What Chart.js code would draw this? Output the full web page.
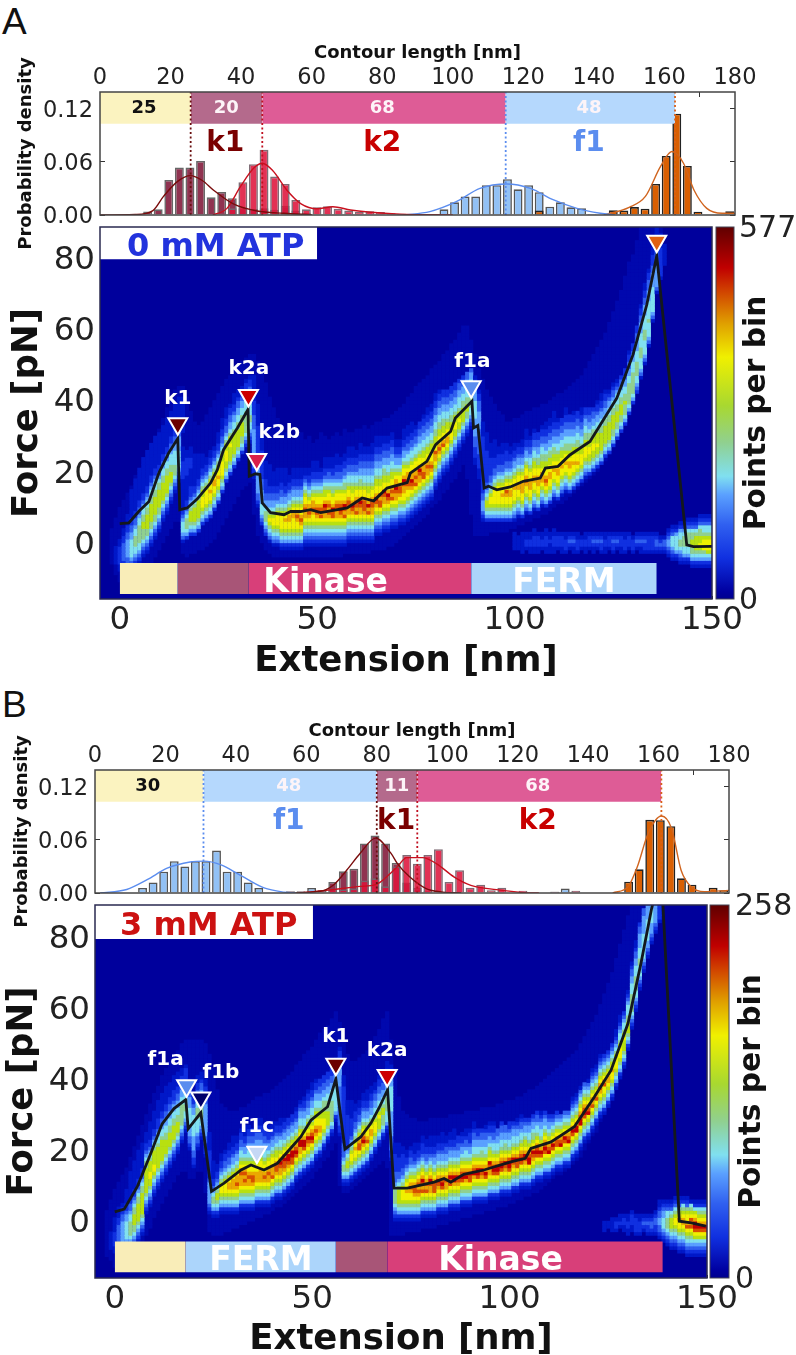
<!DOCTYPE html>
<html><head><meta charset="utf-8">
<script src="https://cdn.jsdelivr.net/npm/chart.js@4"></script>
<style>
html,body{margin:0;padding:0;background:#fff;overflow:hidden;width:796px;height:1355px}
canvas{position:absolute;display:block}
.panel{position:absolute;font:37px "Liberation Sans";color:#111;line-height:37px}
</style></head><body>
<div class="panel" style="left:2px;top:3px">A</div>
<div class="panel" style="left:2px;top:686px">B</div>
<script>
// ---------- tick labels ----------
const contourTicks=[0,20,40,60,80,100,120,140,160,180];
const densityTicks=[0,0.06,0.12];
const extensionTicks=[0,50,100,150];
const forceTicks=[0,20,40,60,80];
const levelColors=['','#0018c8','#1030e0','#3060f0','#5aa0ff','#80e0f0','#90d090','#b8e010','#f0f000','#eaa800','#d85000','#c00000','#0008ae'];
const cbarStops=[[0,'#00008f'],[.02,'#0000a0'],[.11,'#1030e0'],[.2,'#3060f0'],[.28,'#5aa0ff'],[.33,'#80e0f0'],[.42,'#90d090'],[.52,'#a8d830'],[.65,'#f0f000'],[.74,'#e0a000'],[.83,'#d04000'],[.89,'#c00000'],[1,'#600000']];

// ---------- panel A histogram ----------
const histA_k1=[[13.5,.004],[16.5,.0064],[19.5,.0396],[22.5,.0536],[25.5,.0536],[28.5,.061],[31.5,.02],[34.5,.026],[37.5,.019],[40.5,.0075],[43.5,.0068],[46.5,.0075],[49.5,.006],[52.5,.0105],[55.5,.005],[58.5,.002]];
const histA_k2=[[31.5,.001],[34.5,.002],[37.5,.0075],[40.5,.037],[43.5,.0574],[46.5,.0736],[49.5,.0434],[52.5,.0351],[55.5,.017],[58.5,.0064],[61.5,.0087],[64.5,.0098],[67.5,.007],[70.5,.005],[73.5,.0034],[76.5,.0041],[79.5,.0034],[82.5,.002],[85.5,.0015],[88.5,.001],[91.5,.001],[94.5,.001]];
const histA_f1=[[94.5,.0005],[97.5,.0064],[100.5,.0143],[103.5,.0208],[106.5,.0208],[109.5,.0336],[112.5,.0336],[115.5,.0404],[118.5,.029],[121.5,.0336],[124.5,.0257],[127.5,.0094],[130.5,.0143],[133.5,.0087],[136.5,.0075],[139.5,.001]];
const histA_full=[[124.5,.005],[145.5,.0053],[148.5,.005],[151.5,.009],[154.5,.0072],[157.5,.0351],[160.5,.0668],[163.5,.1144],[166.5,.0555],[169.5,.0038],[172.5,.0006],[175.5,.0006],[178.5,.0041]];
const fitA_k1=[[0,0],[10,.0005],[15,.005],[18,.021],[22,.038],[25.6,.0445],[29,.039],[32.2,.028],[37.8,.0125],[44.5,.0045],[52,.002],[60,.0003]];
const fitA_k2=[[32,0],[36,.0075],[39.8,.032],[43.6,.053],[46,.0585],[49,.05],[53,.028],[57,.0125],[61.5,.007],[66,.0094],[71,.0057],[76,.0034],[85,.001],[100,0]];
const fitA_f1=[[86,0],[93.5,.0038],[101,.015],[107.7,.03],[115.3,.035],[122,.03],[128.6,.017],[135.2,.0075],[141.8,.002],[146,0]];
const fitA_full=[[142.8,0],[150,.0087],[154.6,.021],[158.9,.055],[162.1,.0717],[165.4,.0585],[168.4,.028],[172,.0075],[176.4,.002],[180,.002]];
const segA_edges=[0,25.7,46,115,163];
const segA_names=['25','20','68','48'];
const segA_pos=[12.5,35.8,80,138.6];
// ---------- panel B histogram ----------
const histB_f1=[[13.5,.0057],[16.5,.012],[19.5,.024],[22.5,.036],[25.5,.03],[28.5,.036],[31.5,.036],[34.5,.048],[37.5,.024],[40.5,.024],[43.5,.012],[46.5,.0057],[61.5,.0057],[130.5,.0015],[133.5,.005]];
const histB_k1=[[55.5,.002],[58.5,.002],[64.5,.003],[67.5,.0125],[70.5,.0245],[73.5,.0275],[76.5,.056],[79.5,.065],[82.5,.056],[85.5,.034],[88.5,.012],[91.5,.006],[94.5,.002]];
const histB_k2=[[67.5,.005],[70.5,.004],[73.5,.005],[76.5,.014],[79.5,.0166],[82.5,.0075],[85.5,.03],[88.5,.043],[91.5,.033],[94.5,.043],[97.5,.0495],[100.5,.0125],[103.5,.0257],[106.5,.006],[109.5,.0094],[112.5,.003],[115.5,.006],[121.5,.0026],[130.5,.0015],[136.5,.0025]];
const histB_full=[[151.5,.0128],[154.5,.0268],[157.5,.0827],[160.5,.0823],[163.5,.0755],[166.5,.0166],[169.5,.0094],[175.5,.006],[178.5,.003]];
const fitB_f1=[[1.5,0],[9,.004],[14.8,.015],[20.5,.028],[27,.035],[31,.036],[35.6,.032],[41.3,.02],[48,.0057],[53.6,.001],[57,0]];
const fitB_k1=[[54.5,0],[64,.002],[67.8,.0094],[71.5,.026],[75.3,.045],[79.7,.062],[84,.045],[85.9,.033],[89.4,.018],[94,.005],[98.7,.001],[104,0]];
const fitB_k2=[[58,0],[67.8,.004],[75.3,.0075],[79.7,.0094],[84,.0226],[85.9,.03],[88.5,.04],[93,.04],[97,.033],[102,.018],[106.7,.0087],[114,.0038],[122,.0004],[126,0]];
const fitB_full=[[147,0],[151.4,.0075],[154,.03],[157,.067],[160.8,.087],[163.7,.073],[166.4,.0257],[169.3,.0068],[173,.0015],[180,.003]];
const segB_edges=[0,30.8,80,91.5,160.8];
const segB_names=['30','48','11','68'];
const segB_pos=[15,55,85.7,125.7];

// ---------- black mean force-extension traces ----------
const traceA=[[0,5.4],[2.3,5.6],[4.8,8.8],[7.4,11.6],[9.9,19.6],[12.4,25.3],[14.7,29.3],[15.2,9.3],[17.1,9.8],[19.6,12.3],[23,16.8],[24.7,20.5],[26.3,26.2],[29.8,32.3],[32.5,37.5],[32.8,18.7],[34.4,19.4],[35.5,19.2],[36.1,11.2],[38.2,8.5],[41.6,7.9],[43.3,8.8],[45.8,8.8],[48.3,9.3],[50.9,8.5],[57.6,9.8],[61.4,12.6],[64.3,11.8],[67.7,15.4],[72.8,16.9],[73.6,19.6],[77.8,22.9],[80,27.6],[83.8,31.3],[85,35.1],[89.2,39.8],[89.6,32.3],[90.7,33],[92.3,15.4],[93.4,15.9],[95.5,14.9],[98.9,15.7],[102.2,17.3],[106.5,18.2],[107.8,21],[111,21.5],[114,24.7],[119.1,28.5],[125.9,40.7],[130,52.9],[133.5,67],[136,80.7],[143.6,-0.6],[145.3,-1.1],[150,-1]];
const traceB=[[0,2.6],[2.4,3.4],[5.7,9.7],[9.1,19],[12,27.4],[15,31.7],[18,34.2],[18.6,26],[21.8,30.5],[24.5,8.4],[27.7,10.7],[32,14.4],[34.5,15.8],[37.8,14.4],[41.2,16.3],[44.6,20.6],[47.1,23.7],[49.7,28.4],[53.9,32.2],[56,40],[58.3,20.3],[62.3,23.7],[64.9,27.6],[67,32],[69.1,37],[70.7,9.3],[74.1,9.3],[80.9,11],[83.4,12],[85.1,11],[88.4,13.2],[93.5,14.4],[100.3,16.7],[104,17.7],[105.4,20.5],[110.5,22.3],[116.4,26.6],[121.5,35],[125.7,42.5],[130,55.7],[133.3,72.7],[135.9,87.6],[137.2,94],[138.6,94],[143,0],[146,-.5],[149.7,-1.4]];

// ---------- rupture markers ----------
const marksA=[[14.7,33.5,'#6b0000','k1',14.7,41],[32.6,41.4,'#cc0000','k2a',32.7,49.5],[34.7,23.4,'#d81e4a','k2b',40.4,31.5],[89,43.9,'#5b8def','f1a',89.3,51.5],[136,84.8,'#e06010','',0,0]];
const marksB=[[18.2,38.1,'#5b8def','f1a',12.9,46],[21.8,34.7,'#00006a','f1b',26.9,42.5],[36,19.4,'#c5d8f5','f1c',36,27.3],[56,44.2,'#6b0000','k1',56,52.4],[69,41,'#cc0000','k2a',69,48.7]];
const domainsA=[[0,14.7,'#f9edb8',''],[14.7,32.7,'#a85577',''],[32.7,89,'#d83f79','Kinase'],[89,136,'#acd5fb','FERM']];
const domainsB=[[0,18,'#f9edb8',''],[18,56,'#acd5fb','FERM'],[56,69,'#a85577',''],[69,138.8,'#d83f79','Kinase']];

// ---------- 2-D histogram: dim glow per column "lowest bin,highest bin", and inner glow ----------
const glowA_x0=-2;
const glowA=["-6,3","-9,6","-11,9","-12,11","-12,13","-12,15","-11,18","-10,20","-9,23","-8,25","-6,27","-4,29","-2,31","0,34","2,37","4,39","6,42","6,43","-3,43","-4,40","-3,36","-3,33","-2,32","-2,33","-1,35","0,37","1,39","3,41","5,43","7,45","9,46","11,48","13,49","15,50","16,51","17,52","8,52","2,50","0,48","-2,44","-3,40","-4,37","-4,34","-4,32","-4,30","-4,29","-4,28","-4,29","-4,30","-4,28","-4,29","-4,27","-4,28","-4,30","-4,29","-4,28","-4,29","-4,30","-4,29","-3,31","-3,30","-3,30","-3,31","-3,31","-3,32","-3,31","-2,32","-2,33","-2,33","-2,34","-1,34","-1,35","0,36","1,37","2,38","3,40","4,41","5,43","6,44","7,45","8,46","10,48","11,49","12,50","14,52","15,53","17,55","18,56","20,58","22,60","18,60","8,56","2,52","2,48","2,45","2,42","3,40","3,38","3,36","3,35","3,33","4,33","4,34","5,34","5,35","6,36","6,36","7,37","7,37","8,38","8,38","9,39","10,40","11,41","11,41","12,42","13,43","14,44","15,45","16,46","17,48","18,50","19,52","20,54","22,56","23,58","25,61","27,64","29,67","32,70","35,74","38,78","41,80","45,84","48,88","54,89","60,89","68,89","74,89","80,88"];
const glow2A_x0=3;
const glow2A=["6,14","8,17","10,20","12,23","14,25","16,27","18,29","21,30","24,32","27,34","29,36","30,38","31,40","31,40","6,10","6,12","7,15","8,18","9,20","10,22","11,24","12,26","14,28","16,31","18,33","20,35","22,37","24,39","26,41","28,43","30,45","32,46"];
const glowB_x0=-2;
const glowB=["-10,2","-11,5","-13,8","-13,10","-13,12","-13,14","-12,17","-11,20","-9,23","-7,26","-4,29","-2,32","1,35","3,37","5,40","7,42","9,44","11,46","13,47","14,49","14,50","12,50","12,50","14,50","14,50","8,49","-3,46","-4,42","-4,36","-4,32","-3,31","-3,30","-2,30","-2,30","-1,31","-1,31","0,32","0,33","1,34","1,34","2,35","2,35","3,36","4,37","4,38","5,39","6,40","7,41","8,43","9,44","10,46","11,47","12,48","14,50","15,52","17,53","18,54","20,56","22,58","10,55","8,50","8,46","9,44","10,44","11,45","12,46","13,47","14,49","15,51","16,53","17,56","15,58","-4,50","-4,42","-4,34","-4,30","-3,29","-3,28","-3,28","-3,27","-2,27","-2,27","-2,28","-2,28","-1,28","-1,28","-1,28","0,29","0,29","0,29","1,29","1,30","1,30","2,30","2,30","2,31","3,31","3,31","3,31","4,32","4,32","4,33","5,33","5,33","6,34","6,34","7,35","7,36","8,36","8,37","9,38","10,39","11,40","12,41","13,42","13,43","14,44","15,45","16,46","17,47","18,49","20,51","22,53","24,55","25,57","28,60","30,63","32,66","35,69","38,73","41,77","46,81","52,85","57,88","63,89","68,89","73,89","77,89","80,89"];
const glow2B_x0=3;
const glow2B=["-4,8","-2,13","0,16","2,19","4,21","6,24","8,27","10,30","12,33","14,35","16,37","18,38","20,40","22,41","24,42","26,43"];

// ---------- 2-D histogram columns: "first force bin,levels" (levels base 36 index into levelColors) ----------
const heatA_x0=-1;
const heatA=["-6,11111","-8,112222211","-9,1122333332211","-9,11233444443322111","-8,12345555544332211","-7,123455666554332211","-6,12345566666554332211","-4,1234566677665543221111","-3,123456677776655432211","-1,123456677777665543221111","1,12345667777766554322111","3,1234566777776654322111","6,123456777776655432211","8,12345677777665543221111","11,1234567776655543322111","14,123456665555443322211","17,1234555554444332221",
"0,134555432211111111222221111","1,2456665432211111112222211","2,2456777654322211111222111","2,24567777654322111111111","3,2456777776543221111111","5,24567888776543221111","6,245678888765432211","7,2456788988765432211","9,245678899876543221","11,24567889887654322111","14,245678888776543322111","17,245677888776543322111","19,24567777877654433221","21,245677777765544322111","23,24567777766554433211","25,2456677776655443221","27,2345666666555443221","28,1234556655554433221",
"18,12233444444444333322221111111","10,12334444444332222222222111111","5,2345554444333222222221111","2,234566654433222211111","0,1345678765443322111111","-1,134567887654433221111","-1,1345678887654332211111","-2,12456788887654433221111","-2,12456788987654432211111","-2,124567889987654432211","-2,12456788899876544322111","-2,124567889a9876544322111","-2,12456789a98876544322111",
"-1,1234567899a98876543211","-1,123456789a998765432211","-1,1234567889a9987654322111","-1,123456789aa9887654322111","-1,12345678a9a98876543221","-1,1234567899ab9877654322111","-1,123456789a9a9887654332111","-1,12345678aab98876654322111","-1,1234567899aa98876543322111","-1,123456789aba9887654332211","-1,12345678a9ab98876654332211","0,1234567899aa988765543322111","0,123456789ab9887765543322111","0,12345678a9aa98876554332211","0,1234567899ab9887665443322111","0,123456789aaa988765544332211","0,12345678a9b9887765544332211","0,1234567899aa9887655443322111","2,123456789ab98877655443322111","2,12345678aa9a8877655443322111","3,1234567899ab887766544332211","3,123456789ab9887765544332211","4,12345678a9a9887765544332211",
"4,1234567899ab9987654432211","5,123456789aa9887654432211","5,12345678899ab98876544322111","6,1234567889aa998765543322111","7,123456789ab9988765543322111","8,12345678a9a99887655433221","9,1234567899ab9887655443322","10,12345678aa9988776554433221","11,1234567899a9887765544332211","12,123456789a98887765544332211","15,1234567899a8877665544332211","17,123456789a9887766554433221","19,12345678a988776655443322","20,12345678998877655443322","22,1234567888776655443322","24,123456778877655443322","26,12345677877655544332","28,1234567777665544332","30,123456677665554433","32,12345566655555443",
"22,1122233344444555554443221","18,1112222333333344444333221","6,1234443322222222222222221111","6,2456776543322222222211111","6,2456788765433222221111","6,24567888876543322211111","6,245678888876543322211","6,2456788988765433222111","6,24567889a8876543322211","6,245678899887654332211","6,1345678889887654432211","7,134567889988765443221","7,2456788999887654432211","8,134567889a98876544322111","8,2456788999887655433221","9,13456788998877655433221","9,2456788999887665443322","10,13456789998776655433221","10,2456789a9887766544332211","11,245678899887766544332211","12,1345678898877665443322111","12,24567889988776554433221","13,1345678898877655443322","14,134567889887665544332211","14,2456788998776655443322","15,2456788988776554433221","16,245678988776655443322","17,245678887765544332211","18,13456788877665544322","19,2456778877665443322","20,245677887766544332","21,2456778777655443221","22,24567777766554432211","24,2456777776654433221","25,245677777665544321","27,245667777665543321","29,24566777665554321","31,2456677766554332","33,2456667665544322","36,245666666554433221","39,24566666655544322","42,2345566665554443322","46,134555666555544433221","50,13455556665555444332211","55,1345555655555444333221","62,134555555544443322211","70,1344444433332222111","74,1222222221111","78,111111"];
const tailA_x0=100;
const tailA=["-2,11111","-2,1111","-3,111111","-2,12211","-3,112211","-3,1122211","-3,112221","-2,12211","-3,1122211","-3,111211","-3,1122211","-2,12221","-3,112221","-3,122211","-2,12321","-3,112321","-3,122211","-2,1221","-3,112211","-2,12221","-3,112321","-2,12321","-3,122321","-3,112211","-2,12221","-3,122321","-2,12321","-3,112221","-3,122211","-2,12221","-3,12221","-2,12321","-3,112321","-3,122321","-3,122221","-3,122221","-3,123321","-3,12321","-3,12331","-4,12344321","-5,1234555321","-5,1245555421","-6,123456655421","-6,124556665421","-6,1245566665321","-7,12456677665321","-7,12456777765321","-7,124567877665321","-7,124568887655321","-7,124578887655321","-7,124578887655321"];

const heatB_x0=-1;
const heatB=["-8,11111","-9,1122221111","-10,11223333322111","-10,112344444433221","-10,1123455555443221","-9,12345666655433211","-8,1234566777665432211","-6,12345677777665432211","-4,12345677777766543221","2,1234567777777665432211","4,1234567788777654322111","7,12345678877776543221111","9,12345677777765543222111","11,1234567777776554332211","13,1234567777665544332211","15,12345677776655443322111","17,1234567777665544322211","19,123456777665544332211","22,12345666666554433221","25,123455665554433222","20,12334445555544433221","15,122334444555555443221","20,123345555666554332211","23,1234556666655433211","18,1222334444444443332211","2,12344444432222222211111","1,1245665432211111","1,124567765432211","2,12456788765432211","2,124567888765433221","2,12456789987654332211","2,1245678999876544322111","2,12456789a9987654432211","3,1245678999a987655433221","3,12456789a9a9876544322111","3,124567899a98876554433221","3,12456789aa9887655443322","4,1245678999887655444332211","4,1245678999988765544332211","4,12456789a98876554433221","4,124567899a9887654432211","5,1245678a999887654432211","6,12456789aa987765443221","6,124567899ab987655432211","7,12456789aab98765443221","8,12456789abb9876544322","9,1245678aabb9876544322","11,1245678aba98765443221","12,124567899bb98765544321","13,1245678abb987655443221","14,12456789ab9877654433221","15,1245678aba98766554432211","17,12456789a98877655443221","18,1245678998877655443322","20,124567888776665443322","22,12456777766655443322","24,1245666666555443322","28,124555555554443321","24,1223333333333344444333221","10,1245665433332222222222222222111","10,124567765432222222221111","11,12456788765432222211111","12,124567889876543322211","13,1245678aa987654332211","14,12456789ba987654432211","15,1245678a98876544322111","17,124567899876544332211","19,12456788876554433211","21,12456777876554433221","23,1245666776554433221","25,12455566665544332211","17,122333344444445555555443221",
"0,1234566665433322222111","0,1245677776543322221111","0,124567888765433222211","0,12456788988765432211","0,124567889a98765433221","0,12456789aa987654322111","0,12456789a9a98765432211","1,1245678a9ab987654322211","1,1245678a9a987654332211","1,124567899ab987654322111","1,1245678aaa9876544322111","2,12456789ab987654432211","2,1245678aba9876544322111","2,124567899a987654433211","3,1245678aab987654432211","3,12456789bb9876544322111","3,12456789ab98765443322","4,1245678aba98765443221","4,12456789ba987655433211","4,1245678aab987654432221","5,12456789ba9876554433211","5,1245678abb98765544322","5,12456789ab98766544332","5,1245678ab9987655443321","6,124567899ab87765443221","6,1245678aba987655433221","6,1245678abb9876554433","7,1245678aba98765544332","7,12456789ab9876654433","7,1245678abba8765544322","8,12456789ab9876554432","8,1245678aab98765544321","9,1245678aba98765543321","9,12456789ab9877654432","9,1245678bba9876554432","10,12456789ab9876654432","11,1245678aba9876554332","11,1245678ab98765544321","12,1245678aba987654432","12,1245678ba987654432","13,1245678ab98765432","14,1245678aa98765432","14,1245678ba9876543","15,1245678ab9876543","15,1245678ba9876543","17,1245678ab987654321","18,1245678bb987654321","20,1245678bba98765431","22,1245678aba9876543","23,1245678ba98765431","25,1245678a9987654321","27,1245678a987654321","29,12456789a987654321","30,12456788a98765432","32,1245678998765432","34,1245678898765432","37,12456788876543211","40,124567888765543211","43,1245677787655432","48,12456777665554321","54,1234566666555443321","59,12345566665554433211","65,1234555665554444332","70,123455555554444433","74,1234455555544443","78,1234445555444","81,123444444","84,12222"];
const tailB_x0=124;
const tailB=["-3,111","-2,11","-3,1111","-3,1221","-2,1211","-3,11221","-4,112211","-3,112221","-4,122221","-4,122211","-3,12321","-4,122321","-4,123321","-4,1223321","-5,12334433211","-6,123455544321","-7,1234566655321","-8,12345677765321","-8,123456788765321","-9,1234567889876321","-9,1234567899876521","-10,12345678a98876321","-10,12345678a9a87651","-10,1234578abb987521","-10,1234578ab9876521","-10,1234578ab9876521","-10,1234578ab9876521"];

// ---------- helpers ----------
const FF='"DejaVu Sans"';
const xy=a=>a.map(p=>({x:p[0],y:p[1]}));
function cells(cols,x0){const out=[];cols.forEach((c,i)=>{const [s,l]=c.split(',');[...l].forEach((ch,j)=>{const v=parseInt(ch,36);if(v)out.push({x:x0+i,y:+s+j+.5,v});});});return out;}
function rangeCells(cols,x0,v){const out=[];cols.forEach((c,i)=>{const [lo,hi]=c.split(',').map(Number);for(let f=lo;f<=hi;f++)out.push({x:x0+i,y:f+.5,v});});return out;}
function fixedTicks(arr){return s=>{s.ticks=arr.map(v=>({value:v}));};}
function noPad(s){s.paddingTop=s.paddingBottom=s.paddingLeft=s.paddingRight=0;}
function mount(x,y,w,h){const c=document.createElement('canvas');c.width=w;c.height=h;c.style.left=x+'px';c.style.top=y+'px';c.style.width=w+'px';c.style.height=h+'px';document.body.appendChild(c);return c;}
function textPlugin(items,frame,bg){return {id:'panelText',
 beforeDatasetsDraw(ch){if(bg){const a=ch.chartArea;ch.ctx.fillStyle=bg;ch.ctx.fillRect(a.left,a.top,a.width,a.height);}},
 afterDatasetsDraw(ch){const ctx=ch.ctx,a=ch.chartArea,xs=ch.scales.x,ys=ch.scales.y;
  items.forEach(t=>{ctx.save();ctx.font='bold '+t.size+'px '+FF;ctx.fillStyle=t.color;ctx.textAlign='center';ctx.textBaseline='middle';ctx.translate(xs.getPixelForValue(t.x),ys.getPixelForValue(t.y)+t.size*.11);ctx.fillText(t.text,0,0);ctx.restore();});
  if(frame){ctx.save();ctx.strokeStyle=frame;ctx.lineWidth=1.5;ctx.strokeRect(a.left,a.top,a.width,a.height);ctx.restore();}}};}

function histChart(box,data){
 const {l,t,r,b,titleX}=box,cy=t-54,W=796,H=b+40-cy;
 const datasets=[];
 const bar=(d,bg,bd,ord)=>datasets.push({type:'bar',data:xy(d),backgroundColor:bg,borderColor:bd,borderWidth:1.6,barPercentage:.84,categoryPercentage:1,grouped:false,order:ord});
 const fit=(d,c)=>datasets.push({type:'line',data:xy(d),borderColor:c,borderWidth:1.4,pointRadius:0,cubicInterpolationMode:'monotone',fill:false,order:3});
 data.bars.forEach(([d,bg,bd],i)=>bar(d,bg,bd,10-i));
 data.fits.forEach(([d,c])=>fit(d,c));
 data.bandColors.forEach((c,i)=>datasets.push({type:'line',data:[{x:data.edges[i],y:.1395},{x:data.edges[i+1],y:.1395}],borderWidth:0,pointRadius:0,fill:{value:.103},backgroundColor:c,order:2}));
 data.dots.forEach(([x,c])=>datasets.push({type:'line',data:[{x,y:0},{x,y:.1395}],borderColor:c,borderWidth:1.8,borderDash:[2,2.5],pointRadius:0,fill:false,order:1}));
 const items=[];
 data.names.forEach((n,i)=>items.push({x:data.pos[i],y:.1225,text:n,size:18,color:i==0?'#111':'#fdf4f8'}));
 data.big.forEach(([s,x,c])=>items.push({x,y:.0835,text:s,size:28,color:c}));
 new Chart(mount(0,cy,W,H),{type:'bar',data:{datasets},plugins:[textPlugin(items,'#444',null)],options:{
  responsive:false,animation:false,events:[],
  layout:{autoPadding:false,padding:{left:0,top:0,right:W-r,bottom:H-(b-cy)}},
  plugins:{legend:{display:false},tooltip:{enabled:false}},
  scales:{
   x:{type:'linear',position:'top',min:0,max:180,offset:false,afterBuildTicks:fixedTicks(contourTicks),afterFit:s=>{s.height=54;noPad(s);},
     border:{display:false},grid:{drawOnChartArea:false,tickLength:-5,color:'#333'},
     ticks:{padding:5,autoSkip:false,maxRotation:0,color:'#222',font:{family:FF,size:22.5},callback:v=>String(v)},
     title:{display:true,text:'Contour length [nm]',color:'#111',font:{family:FF,size:18,weight:'bold',lineHeight:1},padding:{top:6,bottom:0}}},
   y:{type:'linear',position:'left',min:0,max:.139,afterBuildTicks:fixedTicks(densityTicks),afterFit:s=>{s.width=l;noPad(s);},
     border:{display:false},grid:{drawOnChartArea:false,tickLength:-5,color:'#333'},
     ticks:{padding:12,labelOffset:2,autoSkip:false,color:'#222',font:{family:FF,size:22.5},callback:v=>v.toFixed(2)},
     title:{display:true,text:'Probability density',color:'#111',font:{family:FF,size:18,weight:'bold',lineHeight:1},padding:{top:titleX-9,bottom:0}}},
   yr:{type:'linear',position:'right',min:0,max:.139,afterBuildTicks:fixedTicks(densityTicks),afterFit:s=>{s.width=0;noPad(s);},
     border:{display:false},grid:{drawOnChartArea:false,tickLength:-5,color:'#333'},ticks:{padding:0,callback:()=>''}}
  }}});
}

function heatChart(box,data){
 const {l,t,r,b,bottomY,titleX}=box,cy=t-2,W=796,H=bottomY-cy;
 const heat=rangeCells(data.glow,data.gx0,12).concat(rangeCells(data.glow2,data.g2x0,1),cells(data.cols,data.x0),cells(data.tail,data.tx0));
 const datasets=[{type:'scatter',data:heat,pointStyle:'rect',pointRadius:3,pointBorderWidth:0,pointBackgroundColor:heat.map(p=>levelColors[p.v]),showLine:false,order:10}];
 datasets.push({type:'line',data:[{x:-5,y:data.boxY},{x:data.boxX,y:data.boxY}],borderWidth:0,pointRadius:0,fill:'end',backgroundColor:'#fff',order:6});
 data.domains.forEach(d=>datasets.push({type:'line',data:[{x:d[0],y:-5.7},{x:d[1],y:-5.7}],borderWidth:0,pointRadius:0,fill:{value:-14.4},backgroundColor:d[2],order:5}));
 datasets.push({type:'line',data:xy(data.trace),borderColor:'#14181c',borderWidth:2.8,pointRadius:0,fill:false,tension:0,order:3});
 datasets.push({type:'scatter',data:data.marks.map(m=>({x:m[0],y:m[1]})),pointStyle:'triangle',rotation:180,pointRadius:11,pointBackgroundColor:data.marks.map(m=>m[2]),pointBorderColor:'#fff',pointBorderWidth:2,showLine:false,order:1});
 const items=[{x:data.title[1],y:84,text:data.title[0],size:32,color:data.title[2]}];
 data.marks.forEach(m=>{if(m[3])items.push({x:m[4],y:m[5],text:m[3],size:20,color:'#fff'});});
 data.domains.forEach(d=>{if(d[3])items.push({x:(d[0]+d[1])/2+data.shift[d[3]],y:-10.3,text:d[3],size:33,color:'#fff'});});
 new Chart(mount(0,cy,W,H),{type:'scatter',data:{datasets},plugins:[textPlugin(items,'#2a2a50','#00009c')],options:{
  responsive:false,animation:false,events:[],
  layout:{autoPadding:false,padding:{left:0,top:t-cy,right:W-r,bottom:0}},
  plugins:{legend:{display:false},tooltip:{enabled:false}},
  scales:{
   x:{type:'linear',position:'bottom',min:-5,max:150,afterBuildTicks:fixedTicks(extensionTicks),afterFit:s=>{s.height=bottomY-b;noPad(s);},
     border:{display:false},grid:{drawOnChartArea:false,tickLength:-3,color:'#223'},
     ticks:{padding:5,autoSkip:false,maxRotation:0,color:'#222',font:{family:FF,size:32.5},callback:v=>String(v)},
     title:{display:true,text:'Extension [nm]',color:'#111',font:{family:FF,size:35.5,weight:'bold',lineHeight:1},padding:{top:0,bottom:-2.5}}},
   y:{type:'linear',position:'left',min:data.yMin,max:data.yMax,afterBuildTicks:fixedTicks(forceTicks),afterFit:s=>{s.width=l;noPad(s);},
     border:{display:false},grid:{drawOnChartArea:false,tickLength:-3,color:'#223'},
     ticks:{padding:8,labelOffset:2.5,autoSkip:false,color:'#222',font:{family:FF,size:32.5},callback:v=>String(v)},
     title:{display:true,text:'Force [pN]',color:'#111',font:{family:FF,size:35.5,weight:'bold',lineHeight:1},padding:{top:titleX-17.75,bottom:0}}}
  }}});
}

function colorbar(box,maxV){
 const {l,r,t,b,tx,gap}=box,cy=t-24,x0=l-2,W=796-x0,H=b+30-cy;
 const grad=ch=>{const a=ch.chart.chartArea;if(!a)return '#00f';const g=ch.chart.ctx.createLinearGradient(0,a.bottom,0,a.top);cbarStops.forEach(s=>g.addColorStop(s[0],s[1]));return g;};
 const lab={id:'cbarLabel',afterDraw(ch){const c=ch.ctx;c.save();c.translate(tx-x0,(t+b)/2-cy);c.rotate(-Math.PI/2);c.font='bold 29.7px '+FF;c.fillStyle='#111';c.textAlign='center';c.textBaseline='middle';c.fillText('Points per bin',0,0);c.restore();
   const a=ch.chartArea;c.save();c.strokeStyle='#445';c.lineWidth=1;c.strokeRect(a.left,a.top,a.width,a.height);c.restore();}};
 new Chart(mount(x0,cy,W,H),{type:'bar',data:{labels:['c'],datasets:[{data:[[0,maxV]],backgroundColor:grad,barPercentage:1,categoryPercentage:1,borderWidth:0}]},plugins:[lab],options:{
  responsive:false,animation:false,events:[],
  layout:{autoPadding:false,padding:{left:l-x0,top:t-cy,right:0,bottom:H-(b-cy)}},
  plugins:{legend:{display:false},tooltip:{enabled:false}},
  scales:{x:{display:false},
   y:{type:'linear',position:'right',min:0,max:maxV,afterBuildTicks:fixedTicks([0,maxV]),afterFit:s=>{s.width=796-r;noPad(s);},
     border:{display:false},grid:{display:false,drawTicks:false},
     ticks:{padding:gap,labelOffset:2.5,autoSkip:false,color:'#222',font:{family:FF,size:30},callback:v=>String(v)}}}}});
}

const segColorsA=['#fbf3c0','#b46a8c','#de5c96','#b5d8fd'];
const segColorsB=['#fbf3c0','#b5d8fd','#b46a8c','#de5c96'];
const barK1=['rgba(125,15,50,.85)','rgba(95,95,95,.95)'],barK2=['rgba(222,20,60,.88)','rgba(120,100,110,.95)'],barF1=['#92c1f5','#555'],barO=['#d95f02','#222'];
histChart({l:100,t:92,r:735,b:215,titleX:26.5},{
 bars:[[histA_f1,...barF1],[histA_full,...barO],[histA_k1,...barK1],[histA_k2,...barK2]],
 fits:[[fitA_k1,'#7a0c0c'],[fitA_k2,'#c8101e'],[fitA_f1,'#5b8def'],[fitA_full,'#d0641e']],
 edges:segA_edges,bandColors:segColorsA,names:segA_names,pos:segA_pos,
 big:[['k1',35.5,'#7a0000'],['k2',80,'#c80000'],['f1',138.6,'#5b8def']],
 dots:[[25.7,'#6b0f0f'],[46,'#c01020'],[115,'#5b8def'],[163,'#d9601a']]});
heatChart({l:100,t:227,r:712,b:599,bottomY:677,titleX:28},{
 glow:glowA,gx0:glowA_x0,glow2:glow2A,g2x0:glow2A_x0,
 cols:heatA,x0:heatA_x0,tail:tailA,tx0:tailA_x0,yMin:-15.8,yMax:88.8,trace:traceA,marks:marksA,domains:domainsA,
 boxX:50,boxY:79.7,title:['0 mM ATP',24.3,'#2233dd'],shift:{Kinase:-8.7,FERM:0}});
colorbar({l:716,r:734,t:227,b:599,tx:757,gap:5},577);

histChart({l:95,t:770,r:729,b:893,titleX:22.5},{
 bars:[[histB_f1,...barF1],[histB_full,...barO],[histB_k1,...barK1],[histB_k2,...barK2]],
 fits:[[fitB_f1,'#5b8def'],[fitB_k1,'#7a0c0c'],[fitB_k2,'#c8101e'],[fitB_full,'#d0641e']],
 edges:segB_edges,bandColors:segColorsB,names:segB_names,pos:segB_pos,
 big:[['f1',55,'#5b8def'],['k1',85.5,'#7a0000'],['k2',125.7,'#c80000']],
 dots:[[30.8,'#5b8def'],[80,'#6b0f0f'],[91.5,'#c01020'],[160.8,'#d9601a']]});
heatChart({l:95,t:905,r:707,b:1278,bottomY:1355,titleX:23},{
 glow:glowB,gx0:glowB_x0,glow2:glow2B,g2x0:glow2B_x0,
 cols:heatB,x0:heatB_x0,tail:tailB,tx0:tailB_x0,yMin:-16,yMax:89,trace:traceB,marks:marksB,domains:domainsB,
 boxX:50.2,boxY:79.4,title:['3 mM ATP',23.8,'#cc1111'],shift:{Kinase:-6.2,FERM:0}});
colorbar({l:710,r:729,t:905,b:1278,tx:752,gap:6},258);
</script></body></html>
